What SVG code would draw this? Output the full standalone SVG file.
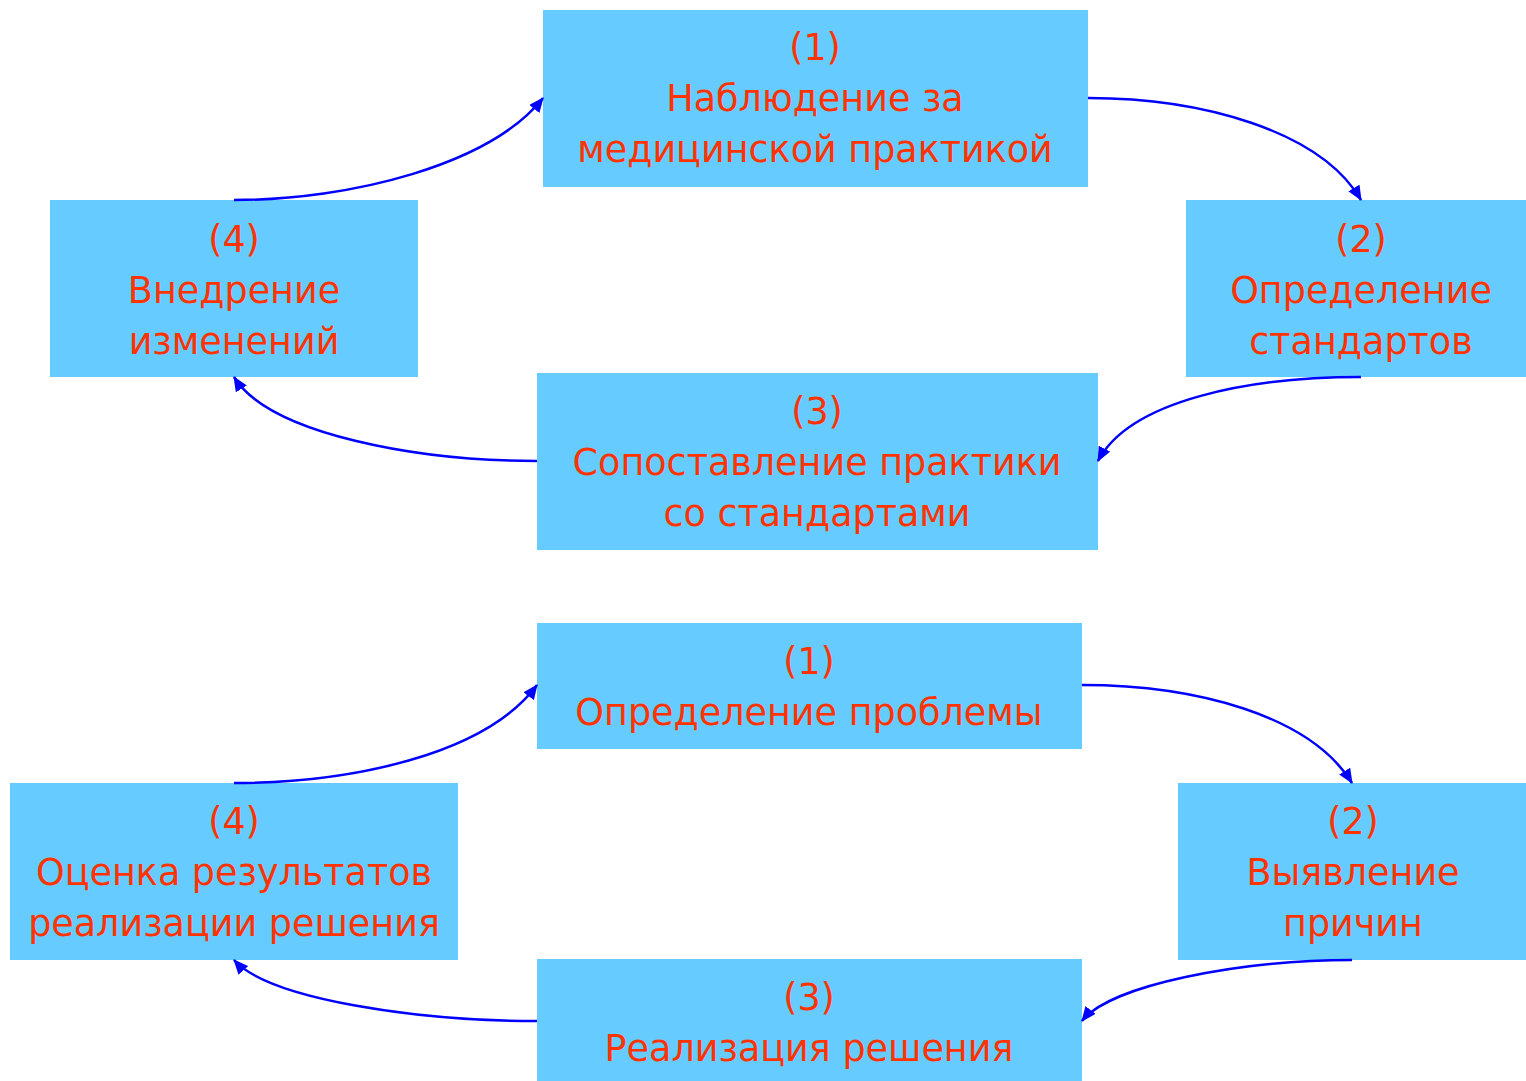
<svg xmlns="http://www.w3.org/2000/svg" width="1526" height="1081" viewBox="0 0 1526 1081">
<defs>
<style>
.box{fill:#66CCFF;}
.t{font-family:"DejaVu Sans",Verdana,sans-serif;font-size:36.5px;fill:#FF3300;text-anchor:middle;}
.c{fill:none;stroke:#0000FF;stroke-width:2.5;marker-end:url(#ah);}
</style>
<marker id="ah" markerUnits="userSpaceOnUse" markerWidth="15" markerHeight="13" refX="14" refY="6.5" orient="auto">
<path d="M0,0 L15,6.5 L0,13 z" fill="#0000FF"/>
</marker>
</defs>
<rect width="1526" height="1081" fill="#FFFFFF"/>
<g id="t1"><rect class="box" x="543" y="10" width="545" height="177"/>
<text class="t" x="815" y="60">(1)</text><text class="t" x="815" y="111">Наблюдение за</text><text class="t" x="815" y="162">медицинской практикой</text></g>
<g id="t2"><rect class="box" x="1186" y="200" width="340" height="177"/>
<text class="t" x="1361" y="252">(2)</text><text class="t" x="1361" y="303">Определение</text><text class="t" x="1361" y="354">стандартов</text></g>
<g id="t3"><rect class="box" x="537" y="373" width="561" height="177"/>
<text class="t" x="817" y="424">(3)</text><text class="t" x="817" y="475">Сопоставление практики</text><text class="t" x="817" y="526">со стандартами</text></g>
<g id="t4"><rect class="box" x="50" y="200" width="368" height="177"/>
<text class="t" x="234" y="252">(4)</text><text class="t" x="234" y="303">Внедрение</text><text class="t" x="234" y="354">изменений</text></g>
<g id="b1"><rect class="box" x="537" y="623" width="545" height="126"/>
<text class="t" x="809" y="674">(1)</text><text class="t" x="809" y="725">Определение проблемы</text></g>
<g id="b2"><rect class="box" x="1178" y="783" width="348" height="177"/>
<text class="t" x="1353" y="834">(2)</text><text class="t" x="1353" y="885">Выявление</text><text class="t" x="1353" y="936">причин</text></g>
<g id="b3"><rect class="box" x="537" y="959" width="545" height="122"/>
<text class="t" x="809" y="1010">(3)</text><text class="t" x="809" y="1061">Реализация решения</text></g>
<g id="b4"><rect class="box" x="10" y="783" width="448" height="177"/>
<text class="t" x="234" y="834">(4)</text><text class="t" x="234" y="885">Оценка результатов</text><text class="t" x="234" y="936">реализации решения</text></g>
<g id="connectors">
<path class="c" d="M1088,98 C1200,98 1320,130 1361,200"/>
<path class="c" d="M1361,377 C1250,377 1130,400 1098,461"/>
<path class="c" d="M537,461 C420,461 270,435 234,377"/>
<path class="c" d="M234,200 C350,200 490,165 543,98"/>
<path class="c" d="M1082,685 C1195,685 1310,715 1352,783"/>
<path class="c" d="M1352,960 C1240,960 1110,985 1082,1021"/>
<path class="c" d="M537,1021 C420,1021 270,1000 234,960"/>
<path class="c" d="M234,783 C350,783 485,755 537,685"/>
</g>
</svg>
